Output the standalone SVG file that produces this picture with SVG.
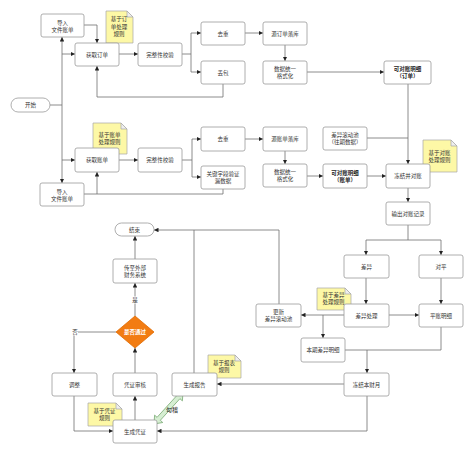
<svg xmlns="http://www.w3.org/2000/svg" width="474" height="454" viewBox="0 0 474 454">
<defs>
<marker id="a" viewBox="0 0 10 10" refX="10" refY="5" markerWidth="4.5" markerHeight="4.5" markerUnits="userSpaceOnUse" orient="auto"><path d="M0,0 L10,5 L0,10 z" fill="#222"/></marker>
<style>
.bx{fill:#fff;stroke:#9a9a9a;stroke-width:0.8}
.nt{fill:#fdf8a6;stroke:#a8a8a8;stroke-width:0.7}
.fd{fill:#eee;stroke:#a8a8a8;stroke-width:0.7}
.t{font-family:"Noto Sans CJK SC","Noto Sans",sans-serif;font-size:5.5px;fill:#333;text-anchor:middle}
.b{font-weight:bold;fill:#222}
.ln{fill:none;stroke:#707070;stroke-width:0.8}
.ar{marker-end:url(#a)}
</style>
</defs>
<rect width="474" height="454" fill="#fff"/>

<g id="connectors">
<path class="ln" d="M50,105 H62"/>
<path class="ln ar" d="M62,105 V37"/>
<path class="ln ar" d="M62,105 V183"/>
<path class="ln ar" d="M62,54 H75"/>
<path class="ln ar" d="M62,160 H75"/>
<path class="ln ar" d="M84,25 H97 V43"/>
<path class="ln ar" d="M119,54 H138"/>
<path class="ln ar" d="M182,54 H191 V33 H201"/>
<path class="ln ar" d="M191,54 V72 H201"/>
<path class="ln ar" d="M245,33 H263"/>
<path class="ln ar" d="M285,45 V61"/>
<path class="ln ar" d="M223,84 V97 H97 V66"/>
<path class="ln ar" d="M307,72 H384"/>
<path class="ln ar" d="M408,84 V164"/>
<path class="ln" d="M367,138 H408"/>
<path class="ln ar" d="M223,189 V194 H97 V172"/>
<path class="ln" d="M84,194 H97"/>
<path class="ln ar" d="M119,160 H138"/>
<path class="ln ar" d="M182,160 H192 V139 H201"/>
<path class="ln ar" d="M192,160 V177 H201"/>
<path class="ln ar" d="M245,139 H263"/>
<path class="ln ar" d="M285,151 V164"/>
<path class="ln ar" d="M307,176 H323"/>
<path class="ln ar" d="M367,176 H386"/>
<path class="ln ar" d="M408,188 V202"/>
<path class="ln ar" d="M408,225 V240 H366 V255"/>
<path class="ln ar" d="M408,240 H441 V255"/>
<path class="ln ar" d="M366,278 V304"/>
<path class="ln ar" d="M441,278 V304"/>
<path class="ln ar" d="M389,315 H419"/>
<path class="ln ar" d="M344,315 H301"/>
<path class="ln ar" d="M323,315 V338"/>
<path class="ln ar" d="M441,327 V350 H367 V373"/>
<path class="ln" d="M345,350 H367"/>
<path class="ln ar" d="M344,384 H217"/>
<path class="ln ar" d="M367,396 V431 H157"/>
<path class="ln ar" d="M279,304 V230 H154"/>
<path class="ln" d="M194,373 V230"/>
<path class="ln ar" d="M74,396 V431 H113"/>
<path class="ln ar" d="M135,420 V396"/>
<path class="ln ar" d="M135,373 V348"/>
<path class="ln ar" d="M135,316 V283"/>
<path class="ln ar" d="M135,259 V236"/>
<path class="ln ar" d="M116,332 H74 V373"/>
<rect x="71" y="328.5" width="7" height="7" fill="#fff"/>
<text class="t" x="75" y="334.2">否</text>
<rect x="131.5" y="296.5" width="7" height="7" fill="#fff"/>
<text class="t" x="135" y="302.2">是</text>
<g id="link_check">
<polygon transform="translate(168.5,408) rotate(-47.8)" points="-21.6,0 -14.6,-5.5 -14.6,-2.2 14.6,-2.2 14.6,-5.5 21.6,0 14.6,5.5 14.6,2.2 -14.6,2.2 -14.6,5.5" fill="#d6eed2" stroke="#7fae7a" stroke-width="0.8"/>
<text class="t" x="172" y="412" style="font-size:6px;fill:#222">勾稽</text>
</g>
</g>

<g id="note_order"><path class="nt" d="M106,11 H127 L133,17 V43 H106 Z"/><path class="fd" d="M127,11 V17 H133 Z"/><text class="t" x="119" y="21.3">基于订</text><text class="t" x="119" y="28.5">单处理</text><text class="t" x="119" y="35.7">规则</text></g>
<g id="note_bill"><path class="nt" d="M93,123 H121 L127,129 V154 H93 Z"/><path class="fd" d="M121,123 V129 H127 Z"/><text class="t" x="109.5" y="137">基于账单</text><text class="t" x="109.5" y="144.2">处理规则</text></g>
<g id="note_rec"><path class="nt" d="M423,140 H451 L457,146 V172 H423 Z"/><path class="fd" d="M451,140 V146 H457 Z"/><text class="t" x="439.5" y="154.7">基于对账</text><text class="t" x="439.5" y="161.5">处理规则</text></g>
<g id="note_diff"><path class="nt" d="M317,288 H345 L351,294 V310 H317 Z"/><path class="fd" d="M345,288 V294 H351 Z"/><text class="t" x="333.5" y="297">基于差异</text><text class="t" x="333.5" y="303.8">处理规则</text></g>
<g id="note_report"><path class="nt" d="M208,355 H235 L241,361 V378 H208 Z"/><path class="fd" d="M235,355 V361 H241 Z"/><text class="t" x="224" y="365">基于报表</text><text class="t" x="224" y="372">规则</text></g>
<g id="note_voucher"><path class="nt" d="M88,403 H116 L122,409 V426 H88 Z"/><path class="fd" d="M116,403 V409 H122 Z"/><text class="t" x="104.5" y="412.7">基于凭证</text><text class="t" x="104.5" y="419.5">规则</text></g>

<g id="n_start"><rect class="bx" x="11" y="98" width="39" height="14" rx="7"/><text class="t" x="30.5" y="107">开始</text></g>
<g id="n_import1"><rect class="bx" x="41" y="14" width="43" height="23" rx="2"/><text class="t" x="62.5" y="24.5">导入</text><text class="t" x="62.5" y="31.5">文件账单</text></g>
<g id="n_getorder"><rect class="bx" x="75" y="43" width="44" height="23" rx="2"/><text class="t" x="97" y="56.5">获取订单</text></g>
<g id="n_check1"><rect class="bx" x="138" y="43" width="44" height="23" rx="2"/><text class="t" x="160" y="56.5">完整性校验</text></g>
<g id="n_dedup1"><rect class="bx" x="201" y="22" width="44" height="23" rx="2"/><text class="t" x="223" y="35.5">去重</text></g>
<g id="n_drop"><rect class="bx" x="201" y="61" width="44" height="23" rx="2"/><text class="t" x="223" y="74.5">丢包</text></g>
<g id="n_srcorder"><rect class="bx" x="263" y="22" width="44" height="23" rx="2"/><text class="t" x="285" y="35.5">源订单落库</text></g>
<g id="n_fmt1"><rect class="bx" x="263" y="61" width="44" height="23" rx="2"/><text class="t" x="285" y="71">数据统一</text><text class="t" x="285" y="78">格式化</text></g>
<g id="n_detail_order"><rect class="bx" x="384" y="61" width="47" height="23" rx="2"/><text class="t b" x="407.5" y="71">可对账明细</text><text class="t b" x="407.5" y="78">（订单）</text></g>

<g id="n_getbill"><rect class="bx" x="75" y="148" width="44" height="24" rx="2"/><text class="t" x="97" y="162">获取账单</text></g>
<g id="n_import2"><rect class="bx" x="40" y="183" width="44" height="23" rx="2"/><text class="t" x="62" y="193.5">导入</text><text class="t" x="62" y="200.5">文件账单</text></g>
<g id="n_check2"><rect class="bx" x="138" y="148" width="44" height="24" rx="2"/><text class="t" x="160" y="162">完整性校验</text></g>
<g id="n_dedup2"><rect class="bx" x="201" y="127" width="44" height="24" rx="2"/><text class="t" x="223" y="141">去重</text></g>
<g id="n_keyfield"><rect class="bx" x="201" y="166" width="44" height="23" rx="2"/><text class="t" x="223" y="176">关键字段验证</text><text class="t" x="223" y="183">漏数据</text></g>
<g id="n_srcbill"><rect class="bx" x="263" y="127" width="44" height="24" rx="2"/><text class="t" x="285" y="141">源账单落库</text></g>
<g id="n_fmt2"><rect class="bx" x="263" y="164" width="44" height="23" rx="2"/><text class="t" x="285" y="174">数据统一</text><text class="t" x="285" y="181">格式化</text></g>
<g id="n_pool"><rect class="bx" x="323" y="127" width="44" height="23" rx="2"/><text class="t" x="345" y="137">差异滚动池</text><text class="t" x="345" y="144">（往期数据）</text></g>
<g id="n_detail_bill"><rect class="bx" x="323" y="164" width="44" height="24" rx="2"/><text class="t b" x="345" y="174.5">可对账明细</text><text class="t b" x="345" y="181.5">（账单）</text></g>
<g id="n_freeze_rec"><rect class="bx" x="386" y="164" width="44" height="24" rx="2"/><text class="t" x="408" y="178">冻结并对账</text></g>
<g id="n_output"><rect class="bx" x="386" y="202" width="44" height="23" rx="2"/><text class="t" x="408" y="215.5">输出对账记录</text></g>
<g id="n_diff"><rect class="bx" x="344" y="255" width="45" height="23" rx="2"/><text class="t" x="366.5" y="268.5">差异</text></g>
<g id="n_even"><rect class="bx" x="419" y="255" width="44" height="23" rx="2"/><text class="t" x="441" y="268.5">对平</text></g>
<g id="n_diffproc"><rect class="bx" x="344" y="304" width="45" height="23" rx="2"/><text class="t" x="366.5" y="317.5">差异处理</text></g>
<g id="n_evendetail"><rect class="bx" x="419" y="304" width="44" height="23" rx="2"/><text class="t" x="441" y="317.5">平账明细</text></g>
<g id="n_update"><rect class="bx" x="256" y="304" width="45" height="23" rx="2"/><text class="t" x="278.5" y="314">更新</text><text class="t" x="278.5" y="321">差异滚动池</text></g>
<g id="n_curdiff"><rect class="bx" x="301" y="338" width="44" height="24" rx="2"/><text class="t" x="323" y="352">本期差异明细</text></g>
<g id="n_freezemonth"><rect class="bx" x="344" y="373" width="45" height="23" rx="2"/><text class="t" x="366.5" y="386.5">冻结本财月</text></g>
<g id="n_report"><rect class="bx" x="172" y="373" width="45" height="23" rx="2"/><text class="t" x="194.5" y="386.5">生成报告</text></g>
<g id="n_voucher"><rect class="bx" x="113" y="420" width="44" height="23" rx="2"/><text class="t" x="135" y="433.5">生成凭证</text></g>
<g id="n_adjust"><rect class="bx" x="52" y="373" width="45" height="23" rx="2"/><text class="t" x="74.5" y="386.5">调整</text></g>
<g id="n_audit"><rect class="bx" x="113" y="373" width="44" height="23" rx="2"/><text class="t" x="135" y="386.5">凭证审核</text></g>
<g id="n_decision"><polygon points="135,316 154,332 135,348 116,332" fill="#f27c12" stroke="#e06a00" stroke-width="0.8"/><text class="t" x="135" y="334" style="fill:#fff;font-weight:bold">是否通过</text></g>
<g id="n_export"><rect class="bx" x="113" y="259" width="44" height="24" rx="2"/><text class="t" x="135" y="269.5">传至外部</text><text class="t" x="135" y="276.5">财务系统</text></g>
<g id="n_end"><rect class="bx" x="115" y="223" width="39" height="13" rx="6.5"/><text class="t" x="134.5" y="231.5">结束</text></g>
</svg>
